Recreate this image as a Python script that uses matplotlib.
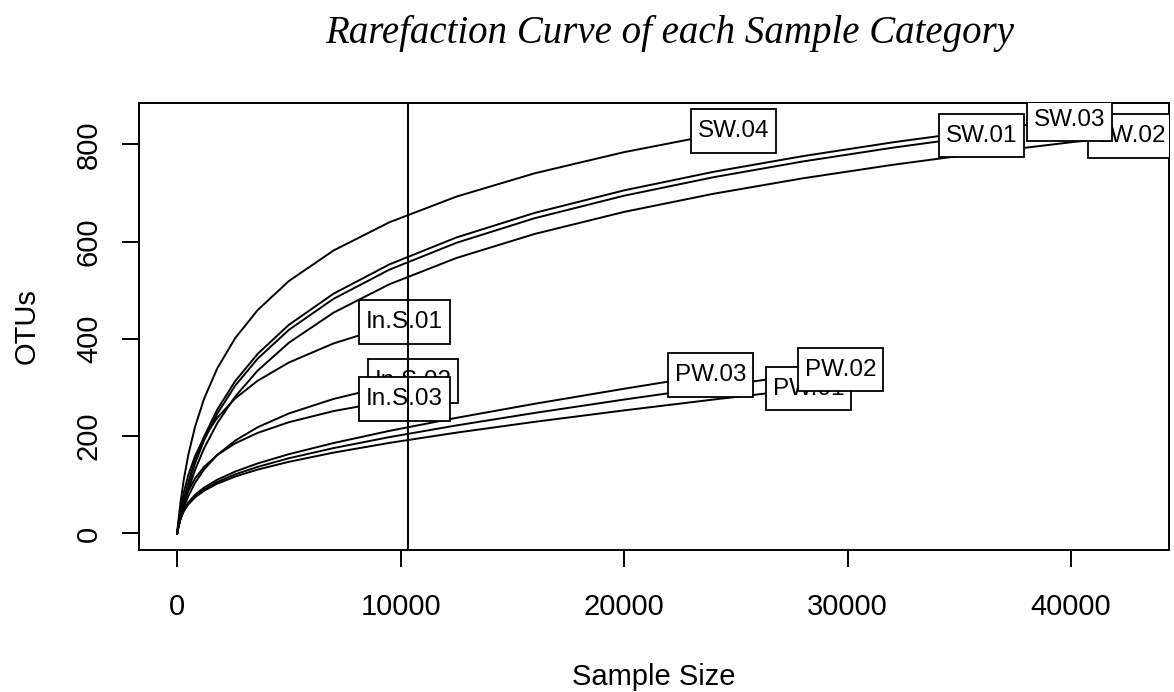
import matplotlib
matplotlib.use("Agg")
import matplotlib.pyplot as plt

# ---------------- data ----------------
samples = ["SW.01", "SW.02", "SW.03", "SW.04", "PW.01", "PW.02", "PW.03",
           "In.S.01", "In.S.02", "In.S.03"]
depth_grid = [0, 50, 150, 300, 500, 800, 1200, 1800, 2600, 3600, 5000, 7000,
              9500, 12500, 16000, 20000, 24000, 28000, 32000, 36000, 40000]
sample_size = [36000, 42680, 39950, 24900, 28260, 29690, 23870, 10170, 10560, 10170]

otus_sw01 = [0, 12.4, 35.3, 65.6, 100.4, 143.9, 191.0, 246.7, 304.0, 359.2, 418.6,
             482.4, 542.4, 597.6, 648.2, 694.4, 732.4, 764.8, 793.0, 818.0]
otus_sw02 = [0, 11.0, 31.3, 58.6, 90.4, 130.5, 174.6, 227.1, 281.7, 334.7, 392.1,
             454.0, 512.4, 566.4, 615.8, 661.1, 698.4, 730.2, 757.8, 782.3, 804.3, 817.9]
otus_sw03 = [0, 13.1, 37.2, 69.0, 105.1, 150.1, 198.4, 255.2, 313.3, 369.1, 428.9,
             493.0, 553.2, 608.6, 659.1, 705.4, 743.5, 775.8, 804.0, 828.9, 851.0]
otus_sw04 = [0, 23.5, 63.5, 111.6, 161.7, 219.1, 276.4, 339.9, 401.8, 459.1, 519.0,
             581.8, 639.8, 692.6, 740.5, 784.0, 819.7, 826.9]
otus_pw01 = [0, 13.3, 30.2, 45.9, 59.9, 74.2, 87.6, 102.4, 117.0, 131.3, 147.3,
             166.2, 186.2, 207.3, 229.5, 253.0, 275.3, 296.6, 298.0]
otus_pw02 = [0, 13.6, 30.9, 47.1, 61.4, 76.3, 90.4, 106.0, 121.5, 136.9, 154.6,
             175.5, 198.1, 222.1, 247.8, 275.3, 301.4, 326.6, 337.0]
otus_pw03 = [0, 14.1, 32.1, 48.9, 63.8, 79.4, 94.2, 110.6, 127.3, 143.9, 163.0,
             185.9, 210.9, 237.7, 266.6, 297.5, 326.2]
otus_ins01 = [0, 18.9, 49.6, 84.8, 120.0, 159.0, 197.0, 238.2, 277.7, 313.9, 351.5,
              390.7, 426.7, 434.8]
otus_ins02 = [0, 11.2, 30.2, 53.1, 76.9, 104.1, 131.4, 161.6, 191.0, 218.3, 246.7,
              276.6, 304.2, 313.8]
otus_ins03 = [0, 15.7, 39.3, 64.3, 87.9, 113.0, 136.6, 161.6, 185.3, 206.7, 228.7,
              251.6, 272.5, 277.2]
rare_depth = 10350

x_ticks = [0, 10000, 20000, 30000, 40000]
y_ticks = [0, 200, 400, 600, 800]
title = "Rarefaction Curve of each Sample Category"
x_label = "Sample Size"
y_label = "OTUs"

curves = [otus_sw01, otus_sw02, otus_sw03, otus_sw04, otus_pw01, otus_pw02,
          otus_pw03, otus_ins01, otus_ins02, otus_ins03]
label_order = ["In.S.02", "In.S.01", "In.S.03", "PW.01", "PW.03", "PW.02",
               "SW.01", "SW.02", "SW.03", "SW.04"]

# ---------------- figure ----------------
W, H = 1174, 692
fig = plt.figure(figsize=(W / 100, H / 100), dpi=100)
ax = fig.add_axes([139 / W, 1 - 550 / H, (1169 - 139) / W, (550 - 103) / H])

sans = "Liberation Sans"
lw = 1.4

ends = []
for name, n_end, vals in zip(samples, sample_size, curves):
    depths = [d for d in depth_grid if d < n_end] + [n_end]
    ax.plot(depths, vals, color="black", lw=lw, solid_joinstyle="round", zorder=2)
    ends.append((name, n_end, vals[-1]))

end_map = {e[0]: e for e in ends}
for z, name in enumerate(label_order):
    _, nx, sy = end_map[name]
    ax.text(nx, sy, name, ha="center", va="center", fontsize=17.5, family=sans,
            color="black", clip_on=True, zorder=3 + z,
            bbox=dict(boxstyle="square,pad=0.28", fc="white", ec="black", lw=1.3,
                      mutation_aspect=1.6))

ax.axvline(rare_depth, color="black", lw=lw, zorder=20)

xmax = max(sample_size)
ymax = max(max(c) for c in curves)
ax.set_xlim(-0.04 * xmax, 1.04 * xmax)
ax.set_ylim(-0.04 * ymax, 1.04 * ymax)

ax.set_xticks(x_ticks)
ax.set_xticklabels([str(t) for t in x_ticks])
ax.set_yticks(y_ticks)
ax.set_yticklabels([str(t) for t in y_ticks], rotation=90, va="center")

for sp in ax.spines.values():
    sp.set_linewidth(1.4)
    sp.set_color("black")

ax.tick_params(axis="both", direction="out", length=12, width=1.4, color="black",
               labelsize=21, labelcolor="black")
ax.tick_params(axis="x", pad=19)
ax.tick_params(axis="y", pad=14)
for lab in ax.get_xticklabels() + ax.get_yticklabels():
    lab.set_family(sans)

ax.set_xlabel(x_label, fontsize=21, family=sans, labelpad=30)
ax.set_ylabel(y_label, fontsize=21, family=sans, labelpad=25)

fig.text(670 / W, 1 - 33 / H, title, ha="center", va="center", fontsize=28,
         family="Liberation Serif", style="italic", color="black")

fig.savefig("out.png", dpi=100)
